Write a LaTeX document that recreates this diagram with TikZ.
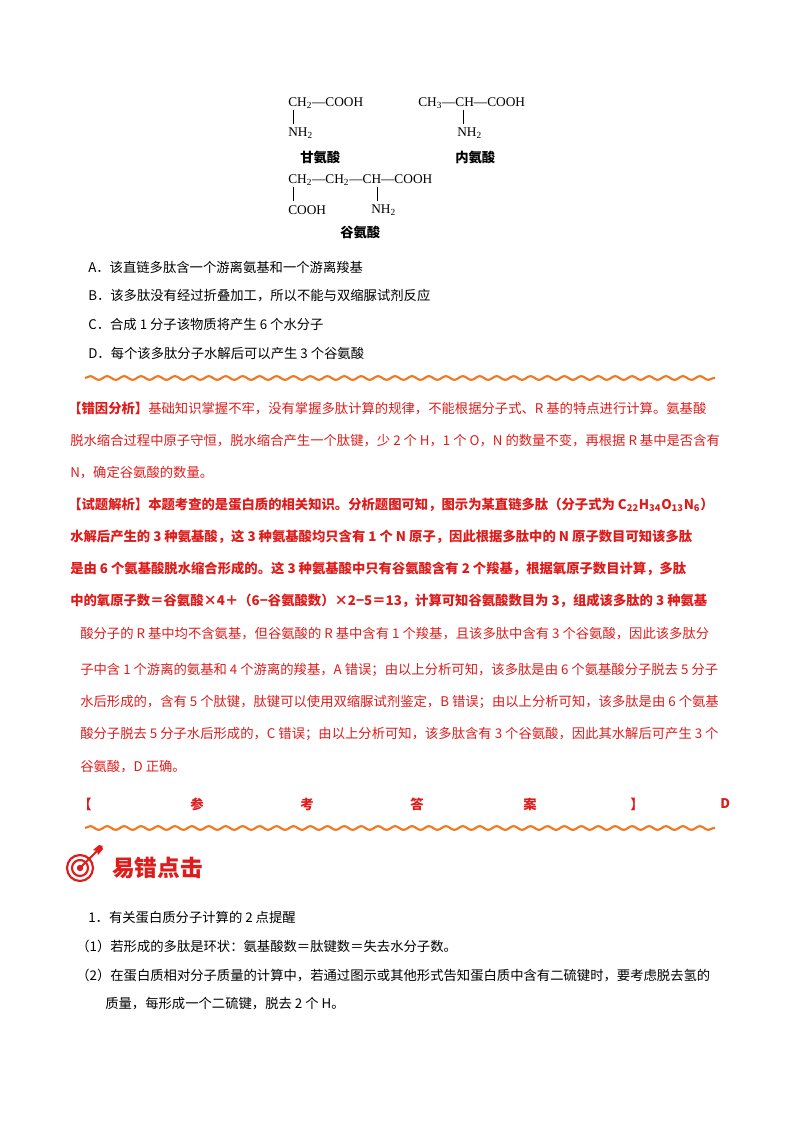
\documentclass[tikz,border=0pt]{standalone}
\usepackage{fontspec}
\setmainfont{Noto Sans CJK SC}
\newfontfamily\chem{Liberation Serif}
\usetikzlibrary{decorations.pathmorphing}
\definecolor{rd}{RGB}{222,28,28}
\definecolor{wv}{RGB}{240,120,30}
\tikzset{
  t/.style={anchor=west,inner sep=0pt,font=\fontsize{10}{12}\selectfont},
  r/.style={t,text=rd},
  rb/.style={t,text=rd,font=\fontsize{10}{12}\selectfont\bfseries},
  ch/.style={anchor=west,inner sep=0pt,font=\fontsize{10}{12}\selectfont\chem},
  lab/.style={anchor=west,inner sep=0pt,font=\fontsize{10}{12}\selectfont\bfseries},
  bond/.style={line width=0.6pt},
  wave/.style={wv,line width=1.6pt,decorate,decoration={snake,amplitude=1.4pt,segment length=12.7pt}}
}
\begin{document}
\begin{tikzpicture}[x=0.75pt,y=-0.75pt]
\useasboundingbox (0,0) rectangle (800,1132);
% structures
\node[ch] (g1) at (288,103) {CH\textsubscript{2}—COOH};
\node[ch] (g2) at (288,133) {NH\textsubscript{2}};
\draw[bond] (293,110)--(293,124);
\node[lab] (g3) at (300,157) {甘氨酸};
\node[ch] (a1) at (418,103) {CH\textsubscript{3}—CH—COOH};
\node[ch] (a2) at (457,133) {NH\textsubscript{2}};
\draw[bond] (463,110)--(463,124);
\node[lab] (a3) at (455,157) {内氨酸};
\node[ch] (e1) at (288,180) {CH\textsubscript{2}—CH\textsubscript{2}—CH—COOH};
\draw[bond] (293,187)--(293,201);
\node[ch] (e2) at (288,210) {COOH};
\draw[bond] (377,187)--(377,201);
\node[ch] (e3) at (371,210) {NH\textsubscript{2}};
\node[lab] (e4) at (340,232) {谷氨酸};
% options
\node[t] (oa) at (88,267) {A．该直链多肽含一个游离氨基和一个游离羧基};
\node[t] (ob) at (88,296) {B．该多肽没有经过折叠加工，所以不能与双缩脲试剂反应};
\node[t] (oc) at (88,324) {C．合成 1 分子该物质将产生 6 个水分子};
\node[t] (od) at (88,353) {D．每个该多肽分子水解后可以产生 3 个谷氨酸};
\draw[wave] (85,378)--(715,378);
% analysis
\node[r] (p1) at (68,409) {\textbf{【错因分析】}基础知识掌握不牢，没有掌握多肽计算的规律，不能根据分子式、R 基的特点进行计算。氨基酸};
\node[r] (p2) at (70,441) {脱水缩合过程中原子守恒，脱水缩合产生一个肽键，少 2 个 H，1 个 O，N 的数量不变，再根据 R 基中是否含有};
\node[r] (p3) at (70,473) {N，确定谷氨酸的数量。};
\node[rb] (q1) at (68,505) {【试题解析】本题考查的是蛋白质的相关知识。分析题图可知，图示为某直链多肽（分子式为 C\textsubscript{22}H\textsubscript{34}O\textsubscript{13}N\textsubscript{6}）};
\node[rb] (q2) at (70,537) {水解后产生的 3 种氨基酸，这 3 种氨基酸均只含有 1 个 N 原子，因此根据多肽中的 N 原子数目可知该多肽};
\node[rb] (q3) at (70,569) {是由 6 个氨基酸脱水缩合形成的。这 3 种氨基酸中只有谷氨酸含有 2 个羧基，根据氧原子数目计算，多肽};
\node[rb] (q4) at (70,601) {中的氧原子数＝谷氨酸×4＋（6−谷氨酸数）×2−5＝13，计算可知谷氨酸数目为 3，组成该多肽的 3 种氨基};
\node[r] (q5) at (80,634) {酸分子的 R 基中均不含氨基，但谷氨酸的 R 基中含有 1 个羧基，且该多肽中含有 3 个谷氨酸，因此该多肽分};
\node[r] (q6) at (80,670) {子中含 1 个游离的氨基和 4 个游离的羧基，A 错误；由以上分析可知，该多肽是由 6 个氨基酸分子脱去 5 分子};
\node[r] (q7) at (80,702) {水后形成的，含有 5 个肽键，肽键可以使用双缩脲试剂鉴定，B 错误；由以上分析可知，该多肽是由 6 个氨基};
\node[r] (q8) at (80,734) {酸分子脱去 5 分子水后形成的，C 错误；由以上分析可知，该多肽含有 3 个谷氨酸，因此其水解后可产生 3 个};
\node[r] (q9) at (80,767) {谷氨酸，D 正确。};
\foreach \x/\c [count=\i] in {78/【,190/参,300/考,410/答,523/案,630/】,720/D}
  \node[rb] (ans\i) at (\x,804) {\c};
\draw[wave] (85,828)--(715,828);
% icon
\draw[rd,line width=1.6pt] (80,868) circle (13);
\draw[rd,line width=1.6pt] (80,868) circle (8);
\fill[rd] (80,868) circle (3.2);
\draw[rd,line width=1.4pt] (80,868)--(97,851);
\fill[rd] (97,851)--(93,850)--(99,845)--(103,846)--cycle;
\fill[rd] (97,851)--(98,855)--(103,849)--(102,846)--cycle;
\node[anchor=west,inner sep=0pt,text=rd,font=\fontsize{17}{20}\selectfont\bfseries] (ttl) at (112,868) {易错点击};
% tips
\node[t] (k1) at (88,917) {1．有关蛋白质分子计算的 2 点提醒};
\node[t] (k2) at (76,946) {（1）若形成的多肽是环状：氨基酸数＝肽键数＝失去水分子数。};
\node[t] (k3) at (76,975) {（2）在蛋白质相对分子质量的计算中，若通过图示或其他形式告知蛋白质中含有二硫键时，要考虑脱去氢的};
\node[t] (k4) at (105,1004) {质量，每形成一个二硫键，脱去 2 个 H。};
\end{tikzpicture}
\end{document}
